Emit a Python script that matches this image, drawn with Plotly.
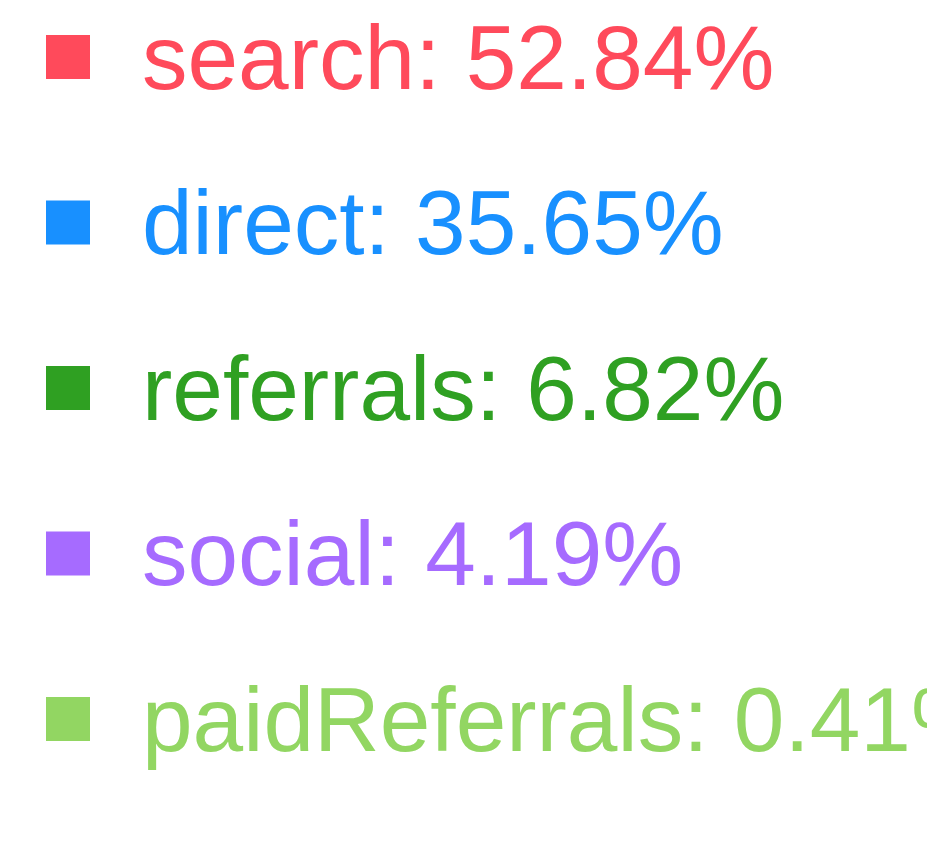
import plotly.graph_objects as go

categories = ["search", "direct", "referrals", "social", "paidReferrals"]
percents = [52.84, 35.65, 6.82, 4.19, 0.41]
colors = ["#FF4A5B", "#1890FF", "#2FA022", "#A66BFF", "#92D662"]

labels = [f"{c}: {p:.2f}%" for c, p in zip(categories, percents)]
idx = list(range(len(categories)))

W, H = 927, 846
row_h = 165.5
top_c = 57
mark_x = 68

fig = go.Figure()
fig.add_trace(go.Scatter(
    x=[0] * len(idx), y=idx, mode="markers",
    marker=dict(symbol="square", size=44, color=colors, line=dict(width=0)),
    hoverinfo="skip", showlegend=False,
))

for i, (lab, col) in enumerate(zip(labels, colors)):
    fig.add_annotation(
        x=72, y=i, xref="x", yref="y", text=lab, showarrow=False,
        xanchor="left", yanchor="middle", yshift=0,
        font=dict(family="Liberation Sans, Arial, sans-serif", size=91, color=col),
    )

fig.update_layout(
    width=W, height=H, margin=dict(l=0, r=0, t=0, b=0),
    paper_bgcolor="white", plot_bgcolor="white",
    xaxis=dict(range=[-mark_x, W - mark_x], visible=False, fixedrange=True),
    yaxis=dict(range=[(H - top_c) / row_h, -top_c / row_h], visible=False, fixedrange=True),
)

fig.write_html("out.html", config={"displayModeBar": False})
